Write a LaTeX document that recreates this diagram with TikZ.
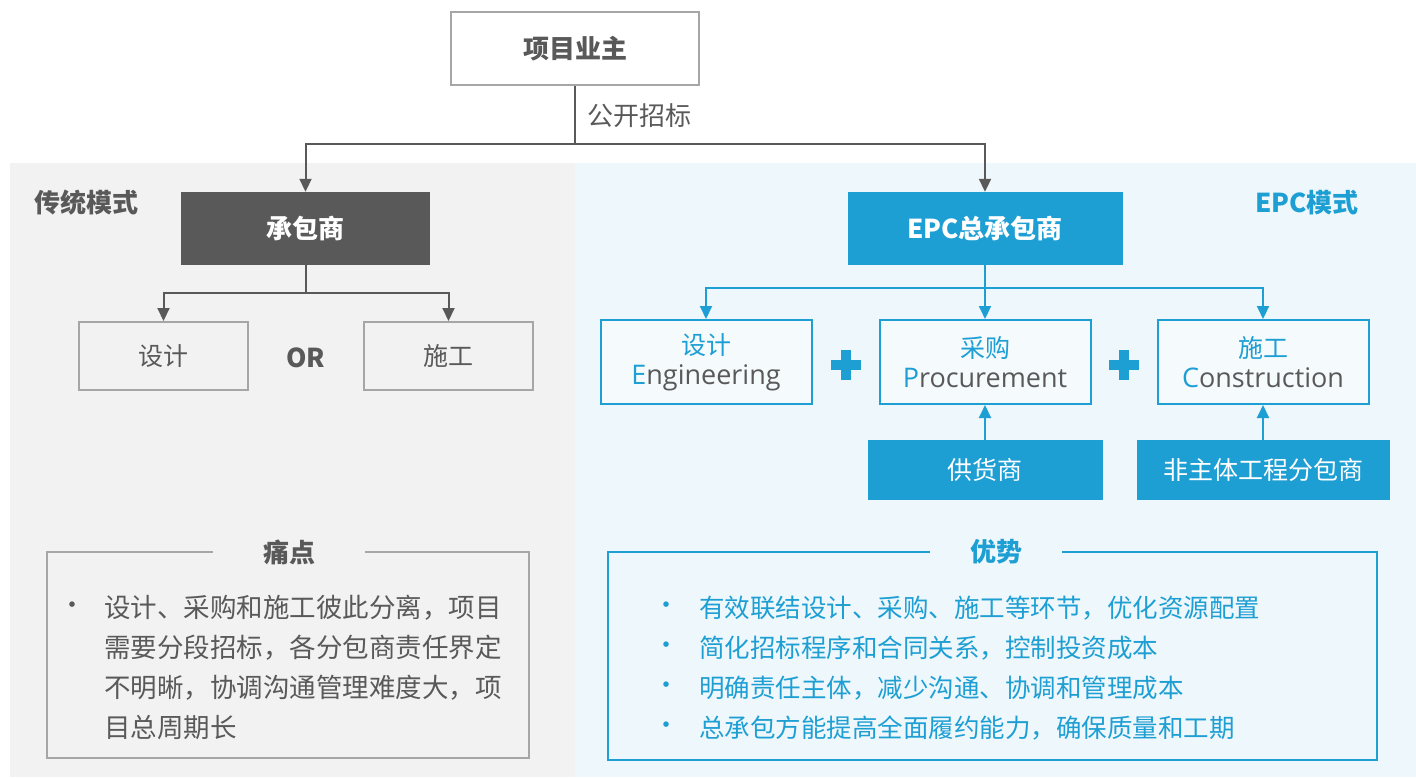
\documentclass[tikz,border=0pt]{standalone}
\usepackage{fontspec}
\setmainfont{Noto Sans CJK SC}
\newfontfamily\latinfont{Open Sans}
\usetikzlibrary{arrows.meta}
\definecolor{darkgray}{HTML}{595959}
\definecolor{framegray}{HTML}{A6A6A6}
\definecolor{panelgray}{HTML}{F2F2F2}
\definecolor{panelblue}{HTML}{EEF7FB}
\definecolor{epcblue}{HTML}{1E9FD4}

\begin{document}
\begin{tikzpicture}[x=1pt,y=-1pt]
  \tikzstyle{GrayBox}=[draw=framegray,line width=2pt,inner sep=0pt,text=darkgray,
                       font=\fontsize{25}{30}\selectfont]
  \tikzstyle{DarkBox}=[fill=darkgray,inner sep=0pt,text=white,
                       font=\fontsize{26}{30}\selectfont\bfseries]
  \tikzstyle{BlueBox}=[fill=epcblue,inner sep=0pt,text=white,
                       font=\fontsize{25}{30}\selectfont]
  \tikzstyle{PhaseBox}=[draw=epcblue,line width=2pt,fill=white!40!panelblue,inner sep=0pt,
                        text=darkgray,align=center,minimum width=211pt,minimum height=84pt,
                        font=\fontsize{25}{30}\selectfont]
  \tikzstyle{GrayLine}=[draw=darkgray,line width=2pt]
  \tikzstyle{GrayArrow}=[GrayLine,-{Triangle[length=13pt,width=12pt]}]
  \tikzstyle{BlueArrow}=[draw=epcblue,line width=2pt,-{Triangle[length=13pt,width=12pt]}]
  \tikzstyle{Title}=[font=\fontsize{26}{30}\selectfont\bfseries]

  \useasboundingbox (0,0) rectangle (1416,777);
  \fill[panelgray] (10,163) rectangle (575,777);
  \fill[panelblue] (575,163) rectangle (1416,777);

  % owner and tendering
  \node[GrayBox,fill=white,minimum width=248pt,minimum height=73pt,
        font=\fontsize{26}{30}\selectfont\bfseries] (owner) at (575,48.5) {项目业主};
  \node[anchor=west,text=darkgray,font=\fontsize{26}{30}\selectfont] (tender) at (584,116) {公开招标};
  \coordinate (split) at (575,144);

  % traditional mode
  \node[Title,text=darkgray] (tradlabel) at (86,203) {传统模式};
  \node[DarkBox,minimum width=249pt,minimum height=73pt] (contractor) at (305.5,228.5) {承包商};
  \node[GrayBox,minimum width=169pt,minimum height=68pt] (design) at (163.5,356) {设计};
  \node[GrayBox,minimum width=169pt,minimum height=68pt] (build) at (448.5,356) {施工};
  \node[Title,text=darkgray] (or) at (305.5,358) {OR};
  \coordinate (cfork) at (305.5,293);

  % EPC mode
  \node[Title,text=epcblue] (epclabel) at (1307,203) {EPC模式};
  \node[BlueBox,minimum width=275pt,minimum height=73pt,
        font=\fontsize{26}{30}\selectfont\bfseries] (epc) at (985,228.5) {EPC总承包商};
  \node[PhaseBox] (eng) at (706,362)
    {{\color{epcblue}设计}\\{\latinfont\fontsize{27}{30}\selectfont{\color{epcblue}E}ngineering}};
  \node[PhaseBox] (proc) at (985,362)
    {{\color{epcblue}采购}\\{\latinfont\fontsize{27}{30}\selectfont{\color{epcblue}P}rocurement}};
  \node[PhaseBox] (cons) at (1263,362)
    {{\color{epcblue}施工}\\{\latinfont\fontsize{27}{30}\selectfont{\color{epcblue}C}onstruction}};
  \node[BlueBox,minimum width=235pt,minimum height=60pt] (supplier) at (985,470) {供货商};
  \node[BlueBox,minimum width=253pt,minimum height=60pt] (subcon) at (1263,470) {非主体工程分包商};
  \coordinate (efork) at (985,288);

  % connectors
  \draw[GrayLine] (owner.south) -- (split);
  \draw[GrayArrow] (split) -| (contractor.north);
  \draw[GrayArrow] (split) -| (epc.north);
  \draw[GrayLine] (contractor.south) -- (cfork);
  \draw[GrayArrow] (cfork) -| (design.north);
  \draw[GrayArrow] (cfork) -| (build.north);
  \draw[draw=epcblue,line width=2pt] (epc.south) -- (efork);
  \draw[BlueArrow] (efork) -| (eng.north);
  \draw[BlueArrow] (efork) -- (proc.north);
  \draw[BlueArrow] (efork) -| (cons.north);
  \draw[BlueArrow] (supplier.north) -- (proc.south);
  \draw[BlueArrow] (subcon.north) -- (cons.south);

  % plus signs
  \foreach \x in {845.5,1124}
    \draw[epcblue,line width=10pt] (\x-15,365) -- (\x+15,365) (\x,350) -- (\x,380);

  % pain points
  \draw[framegray,line width=2pt] (47,552) rectangle (529,758);
  \node[Title,text=darkgray,fill=panelgray,minimum width=152pt,minimum height=30pt]
    (painlabel) at (289,552) {痛点};
  \node[text=darkgray,font=\fontsize{26}{30}\selectfont] (painbullet) at (72,608) {•};
  \node[anchor=north west,inner sep=0pt,align=left,text=darkgray,
        font=\fontsize{26.5}{40}\selectfont] (paintext) at (104,595)
    {设计、采购和施工彼此分离，项目\\需要分段招标，各分包商责任界定\\不明晰，协调沟通管理难度大，项\\目总周期长};

  % advantages
  \draw[epcblue,line width=2pt] (608,552) rectangle (1377,760);
  \node[Title,text=epcblue,fill=panelblue,minimum width=132pt,minimum height=30pt]
    (advlabel) at (996,552) {优势};
  \foreach \t [count=\i] in {有效联结设计、采购、施工等环节，优化资源配置,
                             简化招标程序和合同关系，控制投资成本,
                             明确责任主体，减少沟通、协调和管理成本,
                             总承包方能提高全面履约能力，确保质量和工期}{
    \node[text=epcblue,font=\fontsize{26}{30}\selectfont] (advbullet\i) at (666,568+40*\i) {•};
    \node[anchor=west,inner sep=0pt,text=epcblue,font=\fontsize{25.5}{30}\selectfont]
      (adv\i) at (699,568+40*\i) {\t};
  }
\end{tikzpicture}
\end{document}
